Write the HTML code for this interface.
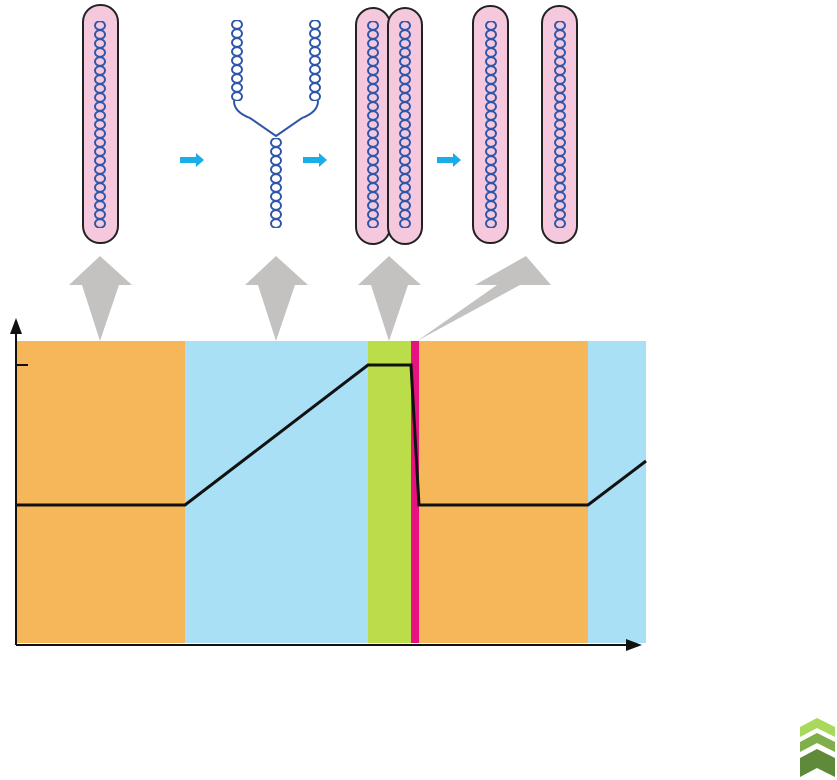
<!DOCTYPE html>
<html><head><style>body{margin:0;background:#fff}svg{display:block}</style></head><body>
<svg width="837" height="780" viewBox="0 0 837 780" xmlns="http://www.w3.org/2000/svg">
<defs>
<pattern id="hx" x="0" y="0" width="16" height="9" patternUnits="userSpaceOnUse">
<ellipse cx="8" cy="4.5" rx="5" ry="4.3" fill="none" stroke="#2d55a8" stroke-width="1.9"/>
</pattern>
</defs>
<rect x="17" y="341" width="168" height="302" fill="#f6b75a"/>
<rect x="185" y="341" width="183" height="302" fill="#aae0f5"/>
<rect x="368" y="341" width="43" height="302" fill="#bcdd4a"/>
<rect x="411" y="341" width="8" height="302" fill="#e6127f"/>
<rect x="419" y="341" width="169" height="302" fill="#f6b75a"/>
<rect x="588" y="341" width="58" height="302" fill="#aae0f5"/>
<line x1="16" y1="330" x2="16" y2="645" stroke="#111" stroke-width="2"/>
<polygon points="16,318 10,334 22,334" fill="#111"/>
<line x1="16" y1="645" x2="630" y2="645" stroke="#111" stroke-width="2"/>
<polygon points="642,645 626,639 626,651" fill="#111"/>
<line x1="16" y1="365" x2="28" y2="365" stroke="#111" stroke-width="2"/>
<polyline points="17,505 185,505 368,365 411,365 419,505 588,505 646,461" fill="none" stroke="#111" stroke-width="3"/>
<g fill="#c4c2c1">
<polygon points="100,256 132,285 119,285 100,341 82,285 69,285"/>
<polygon points="276,256 308,285 295,285 276,341 258,285 245,285"/>
<polygon points="389,256 421,285 408,285 389,341 371,285 358,285"/>
<polygon points="526,256 551,285 520,285 417,341 497,285 475,285"/>
</g>
<g fill="#1aaee8">
<polygon points="180,157 196,157 196,153 204,160 196,167 196,163 180,163"/>
<polygon points="303,157 319,157 319,153 327,160 319,167 319,163 303,163"/>
<polygon points="437,157 453,157 453,153 461,160 453,167 453,163 437,163"/>
</g>
<g fill="#f5c8dd" stroke="#222" stroke-width="2">
<rect x="83" y="5" width="35" height="238" rx="17"/>
<rect x="356" y="8" width="34" height="236" rx="17"/>
<rect x="388" y="8" width="34" height="236" rx="17"/>
<rect x="473" y="6" width="35" height="237" rx="17"/>
<rect x="542" y="6" width="35" height="237" rx="17"/>
</g>
<g fill="url(#hx)">
<rect transform="translate(92,21)" width="16" height="207"/>
<rect transform="translate(365,21)" width="16" height="207"/>
<rect transform="translate(397,21)" width="16" height="207"/>
<rect transform="translate(483,21)" width="16" height="207"/>
<rect transform="translate(552,21)" width="16" height="207"/>
<rect transform="translate(229,20)" width="16" height="81"/>
<rect transform="translate(307,20)" width="16" height="81"/>
<rect transform="translate(268,138)" width="16" height="90"/>
</g>
<path d="M234,101 Q234,112 250,118 L276,136 L302,118 Q318,112 318,101" fill="none" stroke="#2d55a8" stroke-width="2"/>
<polygon points="800,727 817,718 835,727 835,737 817,728 800,737" fill="#a8d85c"/>
<polygon points="800,742 817,733 835,742 835,752 817,743 800,752" fill="#7fae4a"/>
<polygon points="800,758 817,749 835,758 835,777 817,768 800,777" fill="#5e8a3a"/>
</svg>
</body></html>
